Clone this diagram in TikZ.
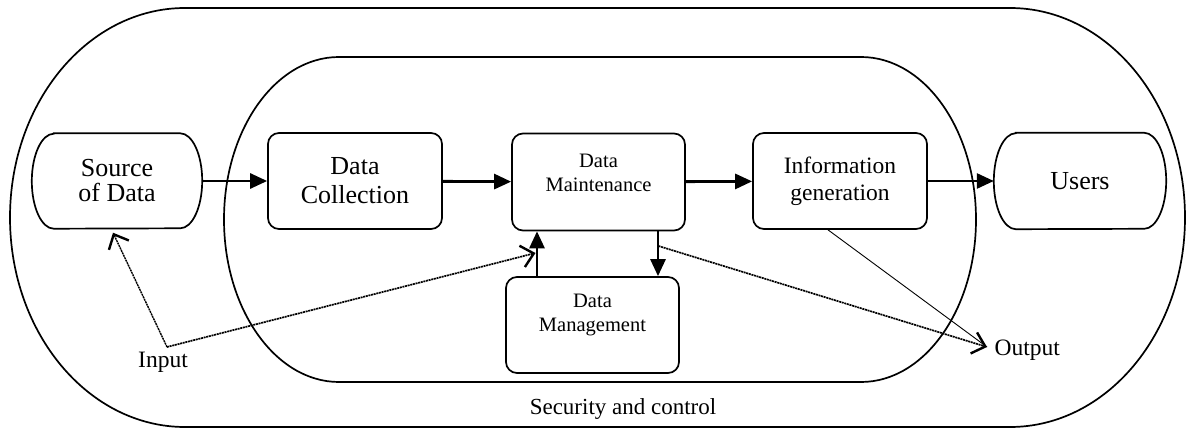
\documentclass[tikz,border=0pt]{standalone}
\usepackage{fontspec}
\setmainfont{Liberation Serif}
\usetikzlibrary{arrows.meta}

\tikzset{
  box/.style={draw, line width=1.7pt, rounded corners=11pt, minimum width=173pt, minimum height=96pt, align=center},
  bigtxt/.style={font=\fontsize{26}{29}\selectfont, align=center},
  smalltxt/.style={font=\fontsize{20.5}{24}\selectfont, align=center},
  flow/.style={line width=2.8pt, -{Triangle[length=17pt,width=15pt]}},
  feed/.style={line width=1.7pt, dash pattern=on 2pt off 0.7pt, -{Straight Barb[length=12pt,width=22pt,line width=2.4pt]}},
}

\begin{document}
\begin{tikzpicture}[x=1pt, y=1pt]

  \useasboundingbox (0,0) rectangle (1186,429);

  % security and control (outer) and the system (inner)
  \draw[line width=1.7pt] (185,421) -- (1010,421)
    arc[start angle=90, end angle=-90, x radius=175, y radius=209.5]
    -- (185,2) arc[start angle=270, end angle=90, x radius=175, y radius=209.5] -- cycle;
  \draw[line width=1.7pt] (339,372) -- (861,372)
    arc[start angle=90, end angle=-90, x radius=115, y radius=162.5]
    -- (339,47) arc[start angle=270, end angle=90, x radius=115, y radius=162.5] -- cycle;

  % source and users
  \node[bigtxt, minimum width=170pt, minimum height=95pt] (src) at (117,248) {Source\\[-4pt]of Data};
  \draw[line width=1.7pt] ([xshift=22pt]src.north west) -- ([xshift=-22pt]src.north east)
    arc[start angle=90, end angle=-90, x radius=22, y radius=47.5]
    -- ([xshift=22pt]src.south west) arc[start angle=270, end angle=90, x radius=22, y radius=47.5] -- cycle;

  \node[bigtxt, minimum width=172pt, minimum height=96pt] (users) at (1080,248) {Users};
  \draw[line width=1.7pt] ([xshift=22pt]users.north west) -- ([xshift=-22pt]users.north east)
    arc[start angle=90, end angle=-90, x radius=22, y radius=48]
    -- ([xshift=22pt]users.south west) arc[start angle=270, end angle=90, x radius=22, y radius=48] -- cycle;

  % processing boxes
  \node[box, bigtxt, minimum width=174pt] (coll) at (355,248) {Data\\Collection};
  \node[box, minimum height=97pt] (maint) at (598.5,247) {};
  \node[smalltxt] (mainttxt) at ([yshift=9pt]maint.center) {Data\\Maintenance};
  \node[box, font=\fontsize{23.5}{27}\selectfont, minimum width=174pt] (info) at (840,248) {Information\\generation};
  \node[box] (mgmt) at (592.5,104) {};
  \node[smalltxt] (mgmttxt) at ([yshift=10pt]mgmt.center) {Data\\Management};

  % labels
  \node[font=\fontsize{23.5}{27}\selectfont] (input) at (163,67) {Input};
  \node[font=\fontsize{23.5}{27}\selectfont, anchor=west] (output) at (991,79) {Output};
  \node[font=\fontsize{23}{27}\selectfont] (sec) at (623,20) {Security and control};

  \coordinate (inpt) at (167,82);
  \coordinate (outp) at (987,82);

  % main flow
  \draw[flow] (src) -- (coll);
  \draw[flow] (coll) -- (maint);
  \draw[flow] (maint) -- (info);
  \draw[flow] (info) -- (users);
  \draw[flow] ([xshift=-55.5pt]mgmt.north) -- ([xshift=-55.5pt]mgmt.north |- maint.south);
  \draw[flow] ([xshift=65.5pt]mgmt.north |- maint.south) -- ([xshift=65.5pt]mgmt.north);

  % input and output
  \draw[feed, line width=1.4pt] (inpt) -- ([xshift=-4pt,yshift=-4pt]src.south);
  \draw[feed] (inpt) -- ([xshift=-57pt]mgmt.north |- 0,176);
  \draw[feed] ([xshift=66pt]mgmt.north |- 0,183) -- (outp);
  \draw[line width=0.9pt] ([xshift=-12pt]info.south) -- (outp);

\end{tikzpicture}
\end{document}
